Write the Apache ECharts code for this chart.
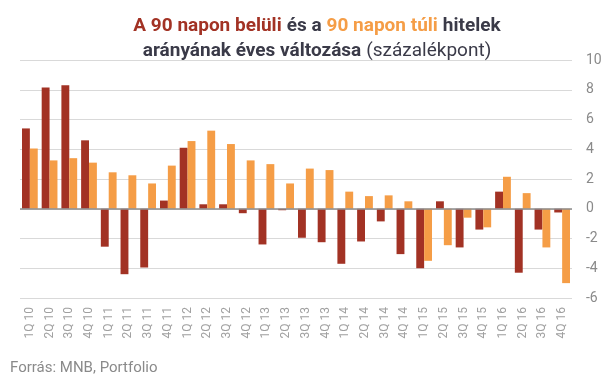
<!DOCTYPE html>
<html>
<head>
<meta charset="utf-8">
<script src="https://cdn.jsdelivr.net/npm/echarts@6/dist/echarts.min.js"></script>
<style>
  html, body { margin: 0; padding: 0; background: #fff; }
  #main { width: 605px; height: 377px; }
</style>
</head>
<body>
<div id="main"></div>
<script>
// negyedévek
var quarters = [
  "1Q 10", "2Q 10", "3Q 10", "4Q 10",
  "1Q 11", "2Q 11", "3Q 11", "4Q 11",
  "1Q 12", "2Q 12", "3Q 12", "4Q 12",
  "1Q 13", "2Q 13", "3Q 13", "4Q 13",
  "1Q 14", "2Q 14", "3Q 14", "4Q 14",
  "1Q 15", "2Q 15", "3Q 15", "4Q 15",
  "1Q 16", "2Q 16", "3Q 16", "4Q 16"
];
// 90 napon belüli
var within90 = [
  5.4, 8.15, 8.3, 4.6,
  -2.55, -4.4, -3.95, 0.55,
  4.1, 0.3, 0.3, -0.3,
  -2.4, -0.1, -1.95, -2.25,
  -3.7, -2.2, -0.85, -3.05,
  -4.0, 0.5, -2.6, -1.4,
  1.15, -4.3, -1.4, -0.25
];
// 90 napon túli
var over90 = [
  4.05, 3.25, 3.4, 3.1,
  2.45, 2.25, 1.7, 2.9,
  4.55, 5.25, 4.35, 3.25,
  3.0, 1.7, 2.7, 2.6,
  1.15, 0.85, 0.9, 0.5,
  -3.5, -2.45, -0.6, -1.25,
  2.15, 1.05, -2.6, -5.0
];
var yMin = -6, yMax = 10, yStep = 2;

var darkRed = "#A23224";
var orange = "#F59D46";
var textDark = "#3a3a48";
var titleFont = "Roboto";

var chart = echarts.init(document.getElementById("main"));
var option = {
  animation: false,
  backgroundColor: "#fff",
  title: {
    left: 312,
    top: 9,
    textAlign: "center",
    text: "{r|A 90 napon belüli} {d|és a} {o|90 napon túli} {d|hitelek}\n{d|arányának éves változása} {n|(százalékpont)}",
    textStyle: {
      rich: {
        r: { color: darkRed, fontWeight: "bold", fontSize: 19, fontFamily: titleFont, lineHeight: 25 },
        o: { color: orange, fontWeight: "bold", fontSize: 19, fontFamily: titleFont, lineHeight: 25 },
        d: { color: textDark, fontWeight: "bold", fontSize: 19, fontFamily: titleFont, lineHeight: 25 },
        n: { color: textDark, fontWeight: "normal", fontSize: 19, fontFamily: titleFont, lineHeight: 25 }
      }
    }
  },
  graphic: [{
    type: "text",
    left: 10,
    top: 361,
    style: {
      text: "Forrás: MNB, Portfolio",
      fill: "#8a8a8a",
      fontSize: 15,
      fontFamily: "Roboto"
    }
  }],
  grid: {
    left: 20,
    right: 33,
    top: 60,
    bottom: 79
  },
  xAxis: {
    type: "category",
    data: quarters,
    axisLine: { show: false, onZero: false },
    axisTick: { show: false },
    axisLabel: {
      rotate: 90,
      margin: 9,
      color: "#a0a0a0",
      fontSize: 12,
      fontFamily: "Roboto"
    }
  },
  yAxis: {
    type: "value",
    position: "right",
    min: yMin,
    max: yMax,
    interval: yStep,
    axisLine: { show: false },
    axisTick: { show: false },
    axisLabel: {
      margin: 14,
      color: "#8a8a8a",
      fontSize: 14,
      fontFamily: "Roboto"
    },
    splitLine: {
      lineStyle: { color: "#d9d9d9", width: 1 }
    }
  },
  series: [
    {
      name: "90 napon belüli",
      type: "bar",
      data: within90,
      barGap: 0,
      barCategoryGap: "20%",
      itemStyle: { color: darkRed },
      markLine: {
        silent: true,
        symbol: "none",
        label: { show: false },
        lineStyle: { color: "#8c8c8c", type: "solid", width: 1.5 },
        data: [{ yAxis: 0 }]
      }
    },
    {
      name: "90 napon túli",
      type: "bar",
      data: over90,
      itemStyle: { color: orange }
    }
  ]
};
chart.setOption(option);
</script>
</body>
</html>
